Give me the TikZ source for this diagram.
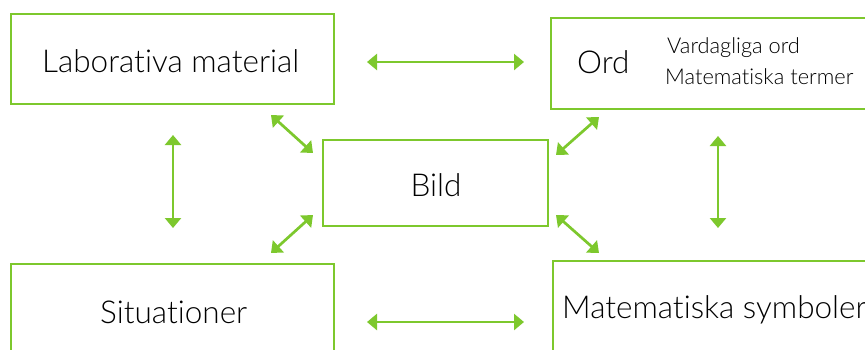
\documentclass[tikz,border=0pt]{standalone}
\usepackage{fontspec}
\setmainfont{Lato}[UprightFont=* Light, Ligatures=NoCommon]
\usetikzlibrary{arrows.meta}
\definecolor{grn}{RGB}{125,200,45}
\tikzset{
  box/.style={draw=grn, line width=2.5pt, rectangle, inner sep=0pt},
  big/.style={font=\fontsize{31.5}{34}\selectfont, inner sep=0pt, anchor=base west},
  small/.style={font=\fontsize{21.8}{24}\selectfont, inner sep=0pt, anchor=base west},
  link/.style={draw=grn, line width=2.7pt, {Triangle[width=16pt,length=10pt]}-{Triangle[width=16pt,length=10pt]}}
}
\begin{document}
\begin{tikzpicture}[x=1pt,y=-1pt]
\useasboundingbox (0,0) rectangle (865,349);
\clip (0,0) rectangle (865,349);
\fill[white] (0,0) rectangle (865,349);
% boxes
\node[box, minimum width=323pt, minimum height=90pt] (lab) at (172.5,59) {};
\node[box, minimum width=400pt, minimum height=91pt] (ord) at (751,63.5) {};
\node[box, minimum width=225pt, minimum height=86pt] (bild) at (435.5,183) {};
\node[box, minimum width=323pt, minimum height=100pt] (sit) at (172.5,314) {};
\node[box, minimum width=400pt, minimum height=100pt] (sym) at (753,311) {};
% texts
\node[big] (tlab) at (42,72) {Laborativa material};
\node[big] (tord) at (577,73) {Ord};
\node[small] (tvard) at (667,53) {Vardagliga ord};
\node[small] (tterm) at (665,84) {Matematiska termer};
\node[big, anchor=base] (tbild) at (436,196) {Bild};
\node[big] (tsit) at (100,323) {Situationer};
\node[big] (tsym) at (562,318) {Matematiska symboler};
% arrow end points
\coordinate (h1a) at (367,62);  \coordinate (h1b) at (524,62);
\coordinate (h2a) at (367,322); \coordinate (h2b) at (524,322);
\coordinate (v1a) at (173,135); \coordinate (v1b) at (173,228);
\coordinate (v2a) at (718,136); \coordinate (v2b) at (718,228);
\coordinate (d1a) at (271,115); \coordinate (d1b) at (313,153);
\coordinate (d2a) at (599,117); \coordinate (d2b) at (556,155);
\coordinate (d3a) at (313,215); \coordinate (d3b) at (271,253);
\coordinate (d4a) at (556,215); \coordinate (d4b) at (599,253);
\draw[link] (h1a) -- (h1b);
\draw[link] (h2a) -- (h2b);
\draw[link] (v1a) -- (v1b);
\draw[link] (v2a) -- (v2b);
\draw[link] (d1a) -- (d1b);
\draw[link] (d2a) -- (d2b);
\draw[link] (d3a) -- (d3b);
\draw[link] (d4a) -- (d4b);
\end{tikzpicture}
\end{document}
